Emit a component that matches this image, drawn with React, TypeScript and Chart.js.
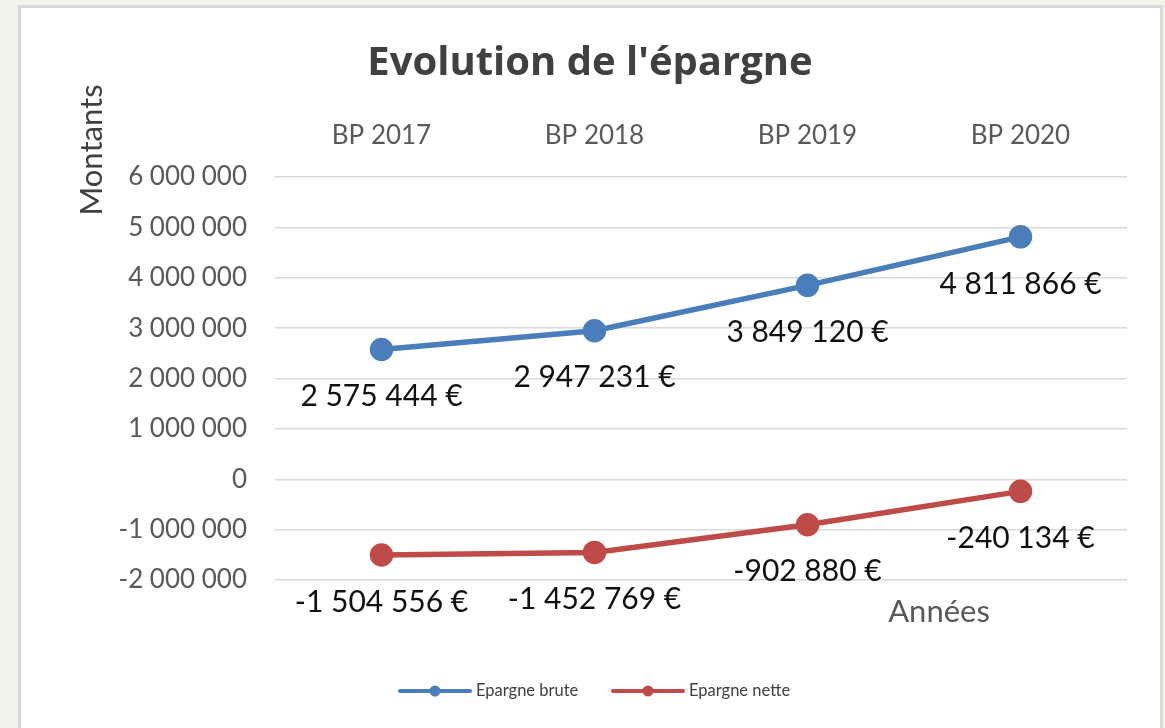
import React, { useEffect, useRef } from "react";
import { Chart, registerables } from "chart.js";

Chart.register(...registerables);

const categories = ["BP 2017", "BP 2018", "BP 2019", "BP 2020"];
const epargneBrute = [2575444, 2947231, 3849120, 4811866];
const epargneNette = [-1504556, -1452769, -902880, -240134];
const seriesNames = ["Epargne brute", "Epargne nette"];
const seriesColors = ["#4A7EBB", "#BE4B48"];
const yMin = -2000000;
const yMax = 6000000;
const yStep = 1000000;
const chartTitle = "Evolution de l'épargne";
const yTitle = "Montants";
const xTitle = "Années";

const FONT = "Lato, 'Open Sans', sans-serif";

function fmt(n: number): string {
  const s = Math.abs(Math.round(n)).toString().replace(/\B(?=(\d{3})+(?!\d))/g, " ");
  return (n < 0 ? "-" : "") + s;
}

const framePlugin = {
  id: "frame",
  beforeDraw(chart: any) {
    const ctx = chart.ctx;
    ctx.save();
    ctx.fillStyle = "#f2f4ec";
    ctx.fillRect(0, 0, chart.width, chart.height);
    ctx.fillStyle = "#d9d9d9";
    ctx.fillRect(18, 5, 1145, chart.height);
    ctx.fillStyle = "#ffffff";
    ctx.fillRect(21, 8, 1139, chart.height);
    ctx.restore();
  },
};

const textPlugin = {
  id: "texts",
  afterDraw(chart: any) {
    const ctx = chart.ctx;
    ctx.save();
    // title
    ctx.fillStyle = "#404040";
    ctx.font = `bold 40px 'Open Sans', sans-serif`;
    ctx.textAlign = "center";
    ctx.textBaseline = "middle";
    ctx.fillText(chartTitle, 590, 64);
    // y title
    ctx.save();
    ctx.translate(92, 150);
    ctx.rotate(-Math.PI / 2);
    ctx.fillStyle = "#404040";
    ctx.font = `31px ${FONT}`;
    ctx.fillText(yTitle, 0, 0);
    ctx.restore();
    // x title
    ctx.fillStyle = "#595959";
    ctx.font = `31px ${FONT}`;
    ctx.fillText(xTitle, 939, 612);
    // legend
    const items = [
      { x1: 400, x2: 470, tx: 476 },
      { x1: 613, x2: 683, tx: 689 },
    ];
    items.forEach((it, i) => {
      const y = 691;
      ctx.strokeStyle = seriesColors[i];
      ctx.lineWidth = 4;
      ctx.lineCap = "round";
      ctx.beginPath();
      ctx.moveTo(it.x1, y);
      ctx.lineTo(it.x2, y);
      ctx.stroke();
      ctx.fillStyle = seriesColors[i];
      ctx.beginPath();
      ctx.arc((it.x1 + it.x2) / 2, y, 5.5, 0, Math.PI * 2);
      ctx.fill();
      ctx.fillStyle = "#404040";
      ctx.font = `16.5px ${FONT}`;
      ctx.textAlign = "left";
      ctx.fillText(seriesNames[i], it.tx, y);
    });
    ctx.restore();
  },
};

const labelPlugin = {
  id: "pointLabels",
  afterDatasetsDraw(chart: any) {
    const ctx = chart.ctx;
    ctx.save();
    ctx.fillStyle = "#111111";
    ctx.font = `30px ${FONT}`;
    ctx.textAlign = "center";
    ctx.textBaseline = "middle";
    chart.data.datasets.forEach((ds: any, di: number) => {
      const meta = chart.getDatasetMeta(di);
      meta.data.forEach((pt: any, i: number) => {
        ctx.fillText(fmt(ds.data[i]) + " €", pt.x, pt.y + 47);
      });
    });
    ctx.restore();
  },
};

export default function App() {
  const ref = useRef<HTMLCanvasElement | null>(null);
  useEffect(() => {
    document.body.style.margin = "0";
    const canvas = ref.current!;
    const chart = new Chart(canvas, {
      type: "line",
      data: {
        labels: categories,
        datasets: [
          {
            label: seriesNames[0],
            data: epargneBrute,
            borderColor: seriesColors[0],
            backgroundColor: seriesColors[0],
            borderWidth: 5.5,
            pointRadius: 9,
            pointHoverRadius: 9,
            tension: 0,
          },
          {
            label: seriesNames[1],
            data: epargneNette,
            borderColor: seriesColors[1],
            backgroundColor: seriesColors[1],
            borderWidth: 5.5,
            pointRadius: 9,
            pointHoverRadius: 9,
            tension: 0,
          },
        ],
      },
      options: {
        responsive: false,
        animation: false,
        layout: { padding: { left: 0, top: 0, right: 38, bottom: 148 } },
        plugins: {
          legend: { display: false },
          title: { display: false },
          tooltip: { enabled: false },
        },
        scales: {
          x: {
            type: "category",
            position: "top",
            offset: true,
            grid: { display: false },
            border: { display: false },
            ticks: { color: "#595959", font: { family: FONT, size: 26 }, padding: 18, maxRotation: 0 },
            afterFit(scale: any) {
              scale.height = 177;
            },
          },
          y: {
            min: yMin,
            max: yMax,
            grid: { color: "#d9d9d9", lineWidth: 1.5, drawTicks: false },
            border: { display: false },
            ticks: {
              stepSize: yStep,
              color: "#595959",
              font: { family: FONT, size: 26 },
              padding: 28,
              callback: (v: any) => fmt(Number(v)),
            },
            afterFit(scale: any) {
              scale.width = 275;
            },
          },
        },
      },
      plugins: [framePlugin, labelPlugin, textPlugin],
    });
    return () => chart.destroy();
  }, []);
  return (
    <div style={{ position: "fixed", left: 0, top: 0, width: 1165, height: 728 }}>
      <canvas ref={ref} width={1165} height={728} style={{ width: 1165, height: 728, display: "block" }} />
    </div>
  );
}
